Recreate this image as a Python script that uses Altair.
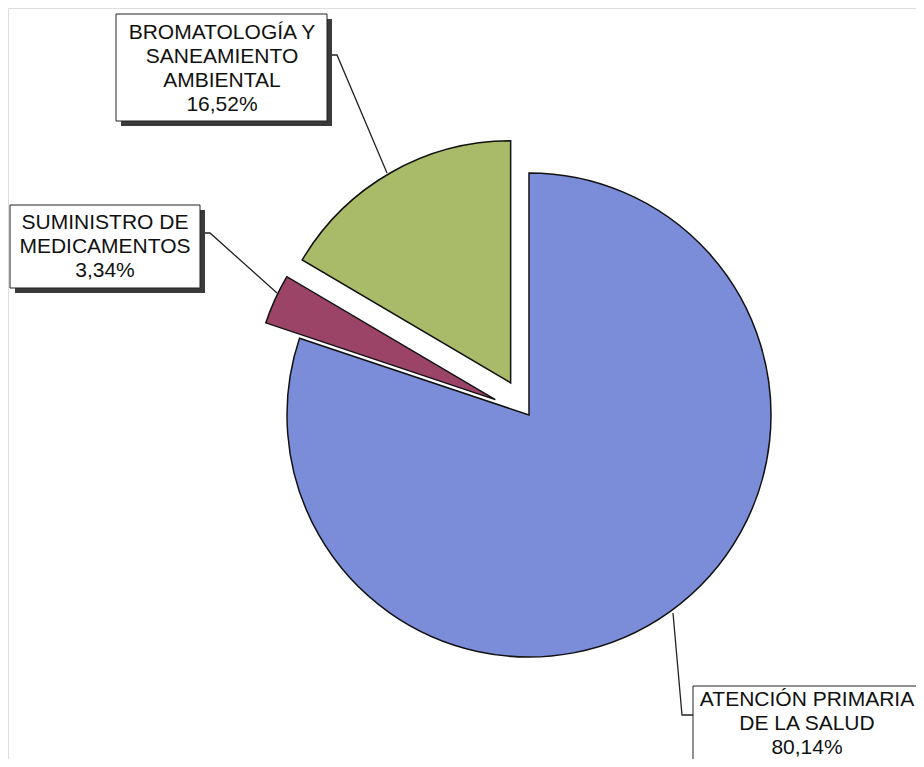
import altair as alt
import pandas as pd

# ---- data ----
categories = ["ATENCIÓN PRIMARIA DE LA SALUD", "SUMINISTRO DE MEDICAMENTOS", "BROMATOLOGÍA Y SANEAMIENTO AMBIENTAL"]
label_lines = [["ATENCIÓN PRIMARIA", "DE LA SALUD"], ["SUMINISTRO DE", "MEDICAMENTOS"], ["BROMATOLOGÍA Y", "SANEAMIENTO", "AMBIENTAL"]]
values = [80.14, 3.34, 16.52]
colors = ["#7B8DD8", "#9C4468", "#A9BA69"]

# ---- layout / style ----
W, H = 908, 751
CX, CY, R = 521, 407, 242
explode = [0, 37, 37]
# label boxes (chart coords): x0, x1, y0, y1, first-line center y, text center x
boxes = [(685, 930, 678, 790, 692, 799), (2, 192, 197, 280, 215, 97), (108, 319, 6, 113, 25, 214)]
leaders = [
    [(665, 605), (674, 707), (685, 707)],
    [(192, 225), (202, 225), (269, 285)],
    [(319, 47), (329, 47), (379, 165)],
]

pie_df = pd.DataFrame({
    "cat": categories,
    "value": values,
    "idx": list(range(len(values))),
    "explode": explode,
})

base_pie = alt.Chart(pie_df).transform_joinaggregate(
    total="sum(value)"
).transform_window(
    cum="sum(value)", sort=[alt.SortField("idx")], frame=[None, 0]
).transform_calculate(
    t0="(datum.cum - datum.value) / datum.total * 2 * PI",
    t1="datum.cum / datum.total * 2 * PI",
).transform_calculate(
    mid="(datum.t0 + datum.t1) / 2"
).transform_calculate(
    px=f"{CX} + datum.explode * sin(datum.mid)",
    py=f"{CY} - datum.explode * cos(datum.mid)",
)

pie = base_pie.mark_arc(radius=R, stroke="#111111", strokeWidth=1.5).encode(
    theta=alt.Theta("t0:Q", scale=None),
    theta2="t1:Q",
    x=alt.X("px:Q", scale=None),
    y=alt.Y("py:Q", scale=None),
    color=alt.Color("cat:N", scale=alt.Scale(domain=categories, range=colors), legend=None),
    order=alt.Order("idx:Q"),
)

# label boxes
labels = []
for lines, v in zip(label_lines, values):
    labels.append("\n".join(lines + [f"{v:.2f}".replace(".", ",") + "%"]))

box_df = pd.DataFrame({
    "cat": categories,
    "label": labels,
    "x0": [b[0] for b in boxes],
    "x1": [b[1] for b in boxes],
    "y0": [b[2] for b in boxes],
    "y1": [b[3] for b in boxes],
    "ty": [b[4] for b in boxes],
    "tx": [b[5] for b in boxes],
})
box_df["sx0"] = box_df["x0"] + 5
box_df["sx1"] = box_df["x1"] + 5
box_df["sy0"] = box_df["y0"] + 5
box_df["sy1"] = box_df["y1"] + 5

shadow = alt.Chart(box_df).mark_rect(color="#3a3a3a").encode(
    x=alt.X("sx0:Q", scale=None), x2="sx1:Q",
    y=alt.Y("sy0:Q", scale=None), y2="sy1:Q",
)
box = alt.Chart(box_df).mark_rect(fill="white", stroke="#222222", strokeWidth=1).encode(
    x=alt.X("x0:Q", scale=None), x2="x1:Q",
    y=alt.Y("y0:Q", scale=None), y2="y1:Q",
)
text = alt.Chart(box_df).mark_text(
    font="Liberation Sans", fontSize=21, lineBreak="\n", lineHeight=24,
    align="center", baseline="middle", color="#111111",
).encode(
    x=alt.X("tx:Q", scale=None),
    y=alt.Y("ty:Q", scale=None),
    text="label:N",
)

lead_rows = []
for i, pts in enumerate(leaders):
    for j, (x, y) in enumerate(pts):
        lead_rows.append({"lid": i, "o": j, "lx": x, "ly": y})
lead_df = pd.DataFrame(lead_rows)
lead = alt.Chart(lead_df).mark_line(color="#222222", strokeWidth=1.3).encode(
    x=alt.X("lx:Q", scale=None),
    y=alt.Y("ly:Q", scale=None),
    detail="lid:N",
    order="o:Q",
)

chart = alt.layer(pie, lead, shadow, box, text).properties(
    width=W, height=H, padding=0, autosize=alt.AutoSizeParams(type="none")
).configure_view(stroke="white", strokeOpacity=0, strokeWidth=0).configure(background="white")

chart.save("out.html", embed_options={"renderer": "svg", "actions": False})
